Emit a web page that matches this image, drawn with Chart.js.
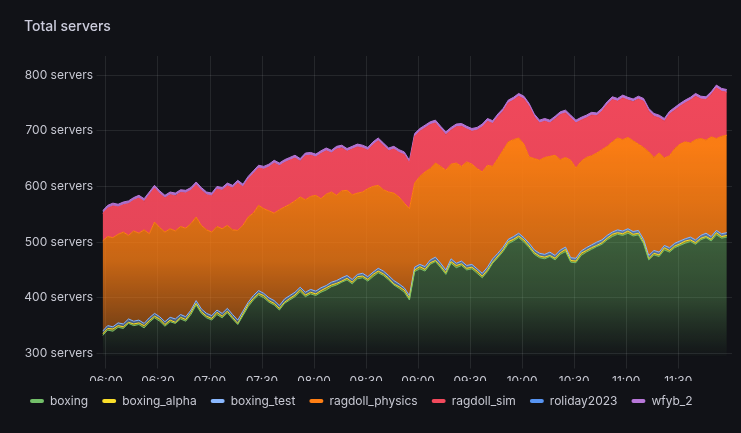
<!DOCTYPE html>
<html><head><meta charset="utf-8">
<script src="https://cdn.jsdelivr.net/npm/chart.js@4.4.1/dist/chart.umd.min.js"></script>
<style>
html,body{margin:0;padding:0;background:#111217;}
#wrap{position:relative;width:741px;height:433px;overflow:hidden;}
#title{position:absolute;left:24px;top:17px;font:500 14px Inter, sans-serif;color:#ccccdc;line-height:17px;}
canvas{position:absolute;left:0;top:0;}
</style></head><body>
<div id="wrap"><canvas id="c" width="741" height="433"></canvas><div id="title">Total servers</div></div>
<script>
// ---- data ----
const START_TIME = "05:58";
const STEP_MINUTES = 3;
const X_TICK_LABELS = ["06:00","06:30","07:00","07:30","08:00","08:30","09:00","09:30","10:00","10:30","11:00","11:30"];
const Y_TICK_VALUES = [300,400,500,600,700,800];
const SERIES_NAMES = ["boxing","boxing_alpha","boxing_test","ragdoll_physics","ragdoll_sim","roliday2023","wfyb_2"];

const boxing = [
332,342,340,347,345,354,350,352,346,356,
364,358,349,357,354,362,358,370,387,372,
364,360,370,364,373,362,352,368,384,396,
405,400,392,387,378,390,396,402,411,402,
407,404,410,414,420,423,428,432,425,434,
436,430,438,445,440,432,423,417,410,396,
447,452,448,460,465,454,442,462,454,458,
450,452,444,436,447,462,472,483,497,502,
508,500,490,478,472,470,474,468,478,483,
464,463,476,482,487,492,496,504,510,514,
512,516,511,513,497,468,477,474,486,482,
490,494,498,501,496,504,508,502,513,507,
509];
const boxing_alpha = [
3,3,4,3,3,2,3,3,4,3,
3,4,3,3,2,3,3,4,3,3,
3,3,4,3,3,3,2,3,4,3,
3,4,3,3,3,2,3,3,4,3,
3,3,3,4,3,3,2,3,3,4,
3,3,4,3,3,3,2,3,4,3,
3,4,3,3,2,3,3,3,4,3,
3,3,4,3,3,2,3,3,4,3,
3,4,3,3,3,3,2,3,3,4,
3,3,4,3,3,2,3,3,4,3,
3,4,3,3,3,2,3,3,4,3,
3,3,4,3,3,3,2,3,4,3,
3];
const boxing_test = [
5,5,4,5,5,6,5,5,4,5,
5,4,5,5,6,5,5,4,5,5,
5,5,4,5,5,5,6,5,4,5,
5,4,5,5,5,6,5,5,4,5,
5,5,5,4,5,5,6,5,5,4,
5,5,4,5,5,5,6,5,4,5,
5,4,5,5,6,5,5,5,4,5,
5,5,4,5,5,6,5,5,4,5,
5,4,5,5,5,5,6,5,5,4,
5,5,4,5,5,6,5,5,4,5,
5,4,5,5,5,6,5,5,4,5,
5,5,4,5,5,5,6,5,4,5,
5];
const ragdoll_physics = [
162,160,160,159,165,150,162,156,168,151,
164,160,161,159,158,158,159,155,150,150,
150,150,150,152,149,152,161,154,153,148,
153,152,156,157,172,165,164,164,162,166,
167,172,160,164,162,153,156,153,152,146,
146,158,154,149,146,150,157,156,152,156,
151,158,170,164,169,174,179,170,180,170,
186,180,180,182,183,166,170,174,175,174,
171,168,155,164,167,174,172,180,162,161,
175,162,161,162,160,160,162,160,162,165,
164,164,163,155,165,186,167,178,157,165,
170,174,174,169,180,174,167,179,165,175,
175];
const ragdoll_sim = [
49,51,57,49,49,57,55,63,51,70,
61,61,61,61,63,61,63,60,58,63,
63,65,67,69,71,75,85,69,68,71,
67,71,79,90,79,80,79,77,64,79,
74,69,81,78,70,83,77,70,82,83,
79,69,75,80,79,74,79,80,87,82,
84,81,79,79,72,67,64,61,65,72,
59,59,69,81,79,77,75,70,70,71,
75,81,91,75,67,65,60,65,81,80,
76,81,74,71,73,67,69,75,76,66,
75,67,70,81,83,73,74,63,66,75,
69,68,70,77,78,71,73,76,91,81,
77];
const roliday2023 = [
0,0,0,0,0,0,0,0,0,0,
0,0,0,0,1,0,0,0,0,0,
0,0,0,0,0,0,0,0,0,0,
0,0,0,0,0,0,0,0,0,0,
0,0,0,0,0,0,1,0,0,0,
0,0,0,0,0,0,0,0,0,0,
0,0,0,0,0,0,0,0,0,0,
0,0,0,0,0,0,0,0,0,0,
0,0,0,0,0,0,0,1,0,0,
0,0,0,0,0,0,0,0,0,0,
0,0,1,0,0,0,0,0,0,0,
0,0,0,0,0,0,0,0,0,0,
0];
const wfyb_2 = [
5,5,5,5,5,5,5,5,5,5,
5,5,5,5,4,5,5,5,5,5,
5,5,5,5,5,5,5,5,5,5,
5,5,5,5,5,5,5,5,5,5,
5,5,5,5,5,5,4,5,5,5,
5,5,5,5,5,5,5,5,5,5,
5,5,5,5,5,5,5,5,5,5,
5,5,5,5,5,5,5,5,5,5,
5,5,5,5,5,5,5,4,5,5,
5,5,5,5,5,5,5,5,5,5,
5,5,4,5,5,5,5,5,5,5,
5,5,5,5,5,5,5,5,5,5,
5];

// ---- helpers ----
function toMin(s){const [h,m]=s.split(':').map(Number);return (h-6)*60+m;}
function fmt(v){const t=v+360;const h=Math.floor(t/60),m=t%60;return String(h).padStart(2,'0')+':'+String(m).padStart(2,'0');}
const start = toMin(START_TIME);
const times = boxing.map((_,i)=>start+i*STEP_MINUTES);

function rgba(hex,a){const n=parseInt(hex.slice(1),16);return `rgba(${(n>>16)&255},${(n>>8)&255},${n&255},${a})`;}
function grad(hex,stops){
  return (ctx)=>{
    const ch=ctx.chart, a=ch.chartArea;
    if(!a) return rgba(hex,stops[0][1]);
    const g=ch.ctx.createLinearGradient(0,a.top,0,a.bottom);
    stops.forEach(([p,al])=>g.addColorStop(p,rgba(hex,al)));
    return g;
  };
}
const COLORS = ["#73BF69","#FADE2A","#8AB8FF","#FF7F14","#F2495C","#5794F2","#B877D9"];
const FILL = [
  [[0,0.6],[0.6,0.45],[0.8,0.32],[0.9,0.16],[1,0.02]],
  [[0,0.9],[1,0.4]],
  [[0,0.9],[1,0.4]],
  [[0,1],[0.3,0.98],[0.68,0.77],[0.91,0.44],[1,0.3]],
  [[0,1],[0.6,0.95],[1,0.8]],
  [[0,0.9],[1,0.6]],
  [[0,1],[1,0.8]]
];
const VALUES = [boxing,boxing_alpha,boxing_test,ragdoll_physics,ragdoll_sim,roliday2023,wfyb_2];
const LINEW = [1,1,1,1,1,0,1];

const datasets = SERIES_NAMES.map((name,i)=>({
  label:name,
  data:VALUES[i],
  borderColor:COLORS[i],
  borderWidth:LINEW[i],
  backgroundColor:grad(COLORS[i],FILL[i]),
  fill: i===0 ? 'start' : '-1',
  pointRadius:0,
  tension:0
}));

const FONT = {family:'Inter', size:12};
const TXT = '#c7c8d2';
const GRID = 'rgba(240,250,255,0.09)';

new Chart(document.getElementById('c'),{
  type:'line',
  data:{labels:times,datasets},
  options:{
    responsive:false,
    animation:false,
    layout:{padding:{top:56,left:16,right:9,bottom:16}},
    plugins:{
      tooltip:{enabled:false},
      title:{display:false},
      legend:{
        position:'bottom',align:'start',
        labels:{
          color:TXT,font:FONT,boxWidth:14,boxHeight:4,useBorderRadius:true,borderRadius:2,padding:14,
          generateLabels:(chart)=>chart.data.datasets.map((d,i)=>({
            text:d.label,fillStyle:COLORS[i],strokeStyle:COLORS[i],lineWidth:0,hidden:false,datasetIndex:i,fontColor:TXT,borderRadius:2
          }))
        }
      }
    },
    scales:{
      x:{
        type:'linear',min:-2,max:361,
        grid:{color:GRID,drawTicks:true,tickLength:12},
        border:{display:false},
        ticks:{color:TXT,font:FONT,padding:6,maxRotation:0,autoSkip:false,callback:(v)=>fmt(v)},
        afterBuildTicks:(s)=>{s.ticks=X_TICK_LABELS.map(l=>({value:toMin(l)}));},
        afterFit:(s)=>{s.height=24.5;}
      },
      y:{
        stacked:true,min:294.6,max:834.2,
        grid:{color:GRID,drawTicks:true,tickLength:6},
        border:{display:false},
        ticks:{color:TXT,font:FONT,padding:3.5,callback:(v)=>v+' servers'},
        afterBuildTicks:(s)=>{s.ticks=Y_TICK_VALUES.map(v=>({value:v}));},
        afterFit:(s)=>{s.width=86.5;}
      }
    }
  }
});
</script>
</body></html>
